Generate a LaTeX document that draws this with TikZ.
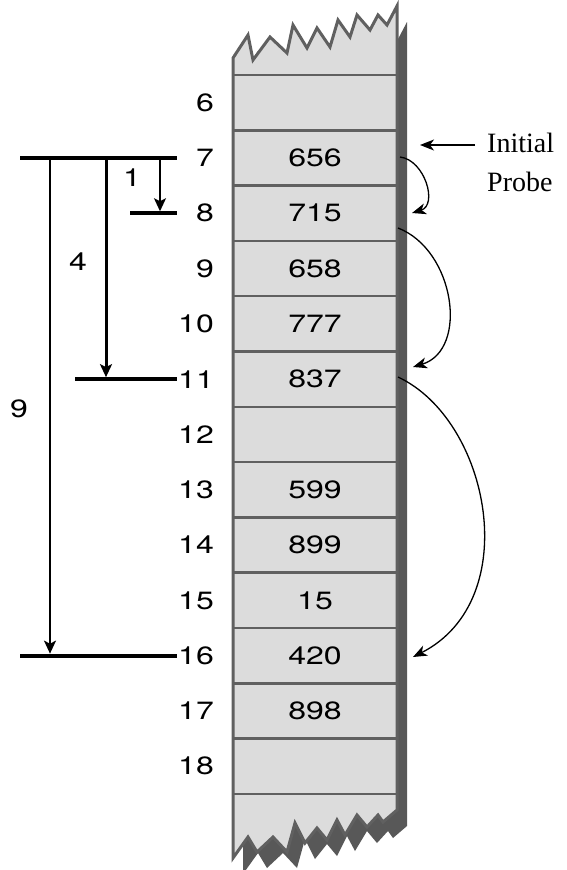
\documentclass[tikz,border=0pt]{standalone}
\usepackage{fontspec}
\setmainfont{Liberation Serif}
\newfontfamily\cellfont[FakeStretch=1.28]{TeX Gyre Heros}
\usetikzlibrary{arrows.meta}

% vertical centre of table row #1
\newcommand\rowy[1]{\fpeval{102.65+(#1-6)*55.3}}

\tikzset{
  slab/.style={fill=slabfill, draw=slabedge, line width=3pt, line join=miter},
  slabshadow/.style={fill=slabdark},
  rowline/.style={draw=slabedge, line width=2.5pt},
  cell/.style={font=\cellfont\fontsize{25}{25}\selectfont, inner sep=0pt},
  idx/.style={font=\cellfont\fontsize{25}{25}\selectfont, inner sep=0pt, anchor=east},
  bar/.style={line width=4pt},
  jumpthin/.style={line width=1.5pt, -{Stealth[length=13pt,width=12pt,inset=3pt]}},
  jumpthick/.style={line width=3pt, -{Stealth[length=13pt,width=12pt,inset=3pt]}},
  probe/.style={line width=1.3pt, -{Stealth[length=14pt,width=11pt,inset=4pt]}},
  probetext/.style={font=\fontsize{28}{28}\selectfont, inner sep=0pt, anchor=west},
}
\definecolor{slabfill}{HTML}{DCDCDC}
\definecolor{slabedge}{HTML}{606060}
\definecolor{slabdark}{HTML}{585858}

\begin{document}
\begin{tikzpicture}[x=1pt,y=-1pt]
\useasboundingbox (0,0) rectangle (566,870);

% the table strip with torn ends, and its dark side
\foreach \dx/\dy/\sty in {10/16/slabshadow, 0/0/slab}{
  \path[\sty, shift={(\dx,\dy)}]
    (233,58) -- (248,35) -- (253,60) -- (270,37) -- (287,53) -- (293,25)
    -- (307,48) -- (317,28) -- (330,47) -- (338,20) -- (350,37) -- (357,15)
    -- (370,30) -- (378,15) -- (387,25) -- (397,6)
    -- (397,810) -- (383,822) -- (378,815) -- (367,827) -- (357,815)
    -- (345,835) -- (337,820) -- (327,840) -- (317,828) -- (305,843)
    -- (295,823) -- (287,852) -- (273,837) -- (257,852) -- (248,837)
    -- (233,858) -- cycle;
}

% row separators
\foreach \k in {0,...,13}{
  \draw[rowline] (233,{75+\k*55.3}) -- (397,{75+\k*55.3});
}

% cell contents and row indices
\foreach \n/\v in {6/,7/656,8/715,9/658,10/777,11/837,12/,13/599,14/899,15/15,16/420,17/898,18/}{
  \node[cell] (c\n) at (315,\rowy{\n}) {\v};
  \node[idx] (i\n) at (214,\rowy{\n}) {\n};
}

% step bars on the left
\coordinate (t7a) at (20,\rowy{7});   \coordinate (t7b) at (177,\rowy{7});
\coordinate (t8a) at (130,\rowy{8});  \coordinate (t8b) at (177,\rowy{8});
\coordinate (t11a) at (75,\rowy{11}); \coordinate (t11b) at (177,\rowy{11});
\coordinate (t16a) at (20,\rowy{16}); \coordinate (t16b) at (177,\rowy{16});
\draw[bar] (t7a) -- (t7b);
\draw[bar] (t8a) -- (t8b);
\draw[bar] (t11a) -- (t11b);
\draw[bar] (t16a) -- (t16b);

% step arrows
\coordinate (s1a) at (160,\rowy{7}); \coordinate (s1b) at (160,{\rowy{8}-2});
\coordinate (s4a) at (106,\rowy{7}); \coordinate (s4b) at (106,{\rowy{11}-2});
\coordinate (s9a) at (50,\rowy{7});  \coordinate (s9b) at (50,{\rowy{16}-2});
\draw[jumpthin] (s1a) -- (s1b);
\draw[jumpthick] (s4a) -- (s4b);
\draw[jumpthin] (s9a) -- (s9b);

\node[cell] (n1) at (132,178) {1};
\node[cell] (n4) at (78,262) {4};
\node[cell] (n9) at (19,409) {9};

% initial probe label
\node[probetext] (init) at (487,143) {Initial};
\node[probetext] (probe) at (487,182) {Probe};
\coordinate (probetip) at (420,145);
\draw[probe] (init.west) ++(-12,2) -- (probetip);

% probe sequence
\coordinate (p7) at (400,157);  \coordinate (p8) at (412,213);
\coordinate (q8) at (398,228);  \coordinate (q11) at (413,367);
\coordinate (r11) at (398,377); \coordinate (r16) at (413,657);
\draw[probe] (p7) .. controls (425,160) and (438,205) .. (p8);
\draw[probe] (q8) .. controls (455,250) and (469,350) .. (q11);
\draw[probe] (r11) .. controls (490,420) and (525,600) .. (r16);
\end{tikzpicture}
\end{document}
